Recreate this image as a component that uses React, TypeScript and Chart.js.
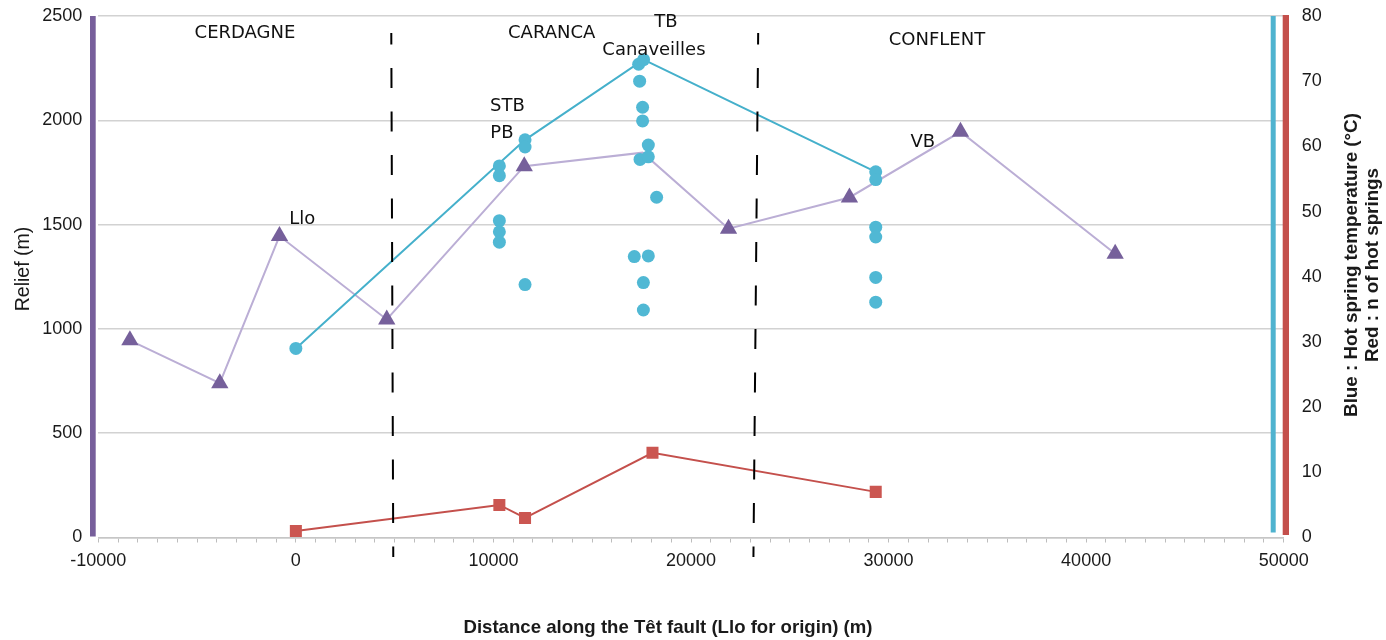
import { useEffect, useRef } from 'react';
import { Chart, registerables } from 'chart.js';

Chart.register(...registerables);

// Relief along the fault (m) — purple triangles
const reliefX = [-8400, -3850, -830, 4600, 11560, 17550, 21900, 28020, 33640, 41470];
const reliefM = [945, 740, 1445, 1045, 1780, 1845, 1480, 1630, 1945, 1360];
// index of the relief vertex whose marker is hidden under the spring dots
const reliefHiddenMarker = 5;

// Individual hot spring temperatures (°C) — blue dots
const springX = [
  0,
  10300, 10300, 10300, 10300, 10300,
  11600, 11600, 11600,
  17350, 17600, 17400, 17550, 17550, 17840, 17420, 17840, 18260, 17130, 17840, 17590, 17590,
  29350, 29350, 29350, 29350, 29350, 29350,
];
const springT = [
  29,
  57.0, 55.5, 48.6, 46.9, 45.3,
  61.0, 59.9, 38.8,
  72.6, 73.3, 70.0, 66.0, 63.9, 60.2, 58.0, 58.4, 52.2, 43.1, 43.2, 39.1, 34.9,
  56.1, 54.9, 47.6, 46.1, 39.9, 36.1,
];

// Maximum temperature per spring group (°C) — blue line
const tmaxX = [0, 11600, 17600, 29350];
const tmaxT = [29, 61, 73.3, 56.1];

// Number of hot springs — red squares
const countX = [0, 10300, 11600, 18050, 29350];
const countN = [1, 5, 3, 13, 7];

// Fault segment boundaries (dashed lines), x at top and bottom of the line
const faultTopX = [4830, 23400];
const faultBottomX = [4930, 23160];

// Annotations (x in m along fault, y in relief units, text baseline)
const labelText = ['CERDAGNE', 'CARANCA', 'CONFLENT', 'TB', 'Canaveilles', 'STB', 'PB', 'Llo', 'VB'];
const labelX = [-2576, 12948, 32450, 18733, 18125, 10710, 10432, 324, 31730];
const labelY = [2393, 2393, 2362, 2446, 2313, 2045, 1917, 1504, 1871];

// Axis ticks
const xTickMin = -10000;
const xTickMax = 50000;
const reliefMax = 2500;
const tempMax = 80;

const TICK_FONT = { family: '"Liberation Sans", Arial, sans-serif', size: 18 };

export default function App() {
  const ref = useRef<HTMLCanvasElement>(null);

  useEffect(() => {
    document.body.style.margin = '0';
    const canvas = ref.current;
    if (!canvas) return;
    const pts = (xs: number[], ys: number[]) => xs.map((x, i) => ({ x, y: ys[i] }));

    const faultPlugin = {
      id: 'faults',
      afterDatasetsDraw(chart: any) {
        const { ctx, scales } = chart;
        const xs = scales.x;
        ctx.save();
        ctx.strokeStyle = '#000';
        ctx.lineWidth = 2;
        ctx.setLineDash([20, 23.5]);
        ctx.lineDashOffset = 8.5;
        faultTopX.forEach((tx, i) => {
          ctx.beginPath();
          ctx.moveTo(xs.getPixelForValue(tx), 33);
          ctx.lineTo(xs.getPixelForValue(faultBottomX[i]), 557);
          ctx.stroke();
        });
        ctx.restore();
      },
    };

    const decorPlugin = {
      id: 'decor',
      afterDraw(chart: any) {
        const { ctx, chartArea: a, scales } = chart;
        const xs = scales.x;
        const ys = scales.y;
        ctx.save();
        // coloured axis bars
        ctx.fillStyle = '#775f9b';
        ctx.fillRect(a.left - 8.3, a.top, 5.7, a.bottom - a.top - 1);
        ctx.fillStyle = '#4fb3cf';
        ctx.fillRect(a.right - 13, a.top, 5, a.bottom - a.top - 5);
        ctx.fillStyle = '#c4504c';
        ctx.fillRect(a.right - 1, a.top - 1, 6.3, a.bottom - a.top - 1.5);

        // annotations
        ctx.font = '18px "DejaVu Sans", sans-serif';
        ctx.fillStyle = '#111';
        ctx.textAlign = 'center';
        ctx.textBaseline = 'alphabetic';
        labelText.forEach((t, i) => {
          ctx.fillText(t, xs.getPixelForValue(labelX[i]), ys.getPixelForValue(labelY[i]));
        });

        // axis titles
        ctx.fillStyle = '#1a1a1a';
        ctx.textBaseline = 'middle';
        ctx.save();
        ctx.translate(24, 269);
        ctx.rotate(-Math.PI / 2);
        ctx.font = '19.5px "Liberation Sans", Arial, sans-serif';
        ctx.fillText('Relief (m)', 0, 0);
        ctx.restore();

        ctx.save();
        ctx.font = 'bold 18.8px "Liberation Sans", Arial, sans-serif';
        ctx.translate(1352, 265);
        ctx.rotate(-Math.PI / 2);
        ctx.fillText('Blue : Hot spring temperature (°C)', 0, 0);
        ctx.fillText('Red : n of hot springs', 0, 21);
        ctx.restore();

        ctx.font = 'bold 18.6px "Liberation Sans", Arial, sans-serif';
        ctx.fillText('Distance along the Têt fault (Llo for origin) (m)', 668, 628);
        ctx.restore();
      },
    };

    const fitVertical = (w: number) => (s: any) => {
      s.width = w;
      s.paddingTop = 0;
      s.paddingBottom = 0;
    };

    const chart = new Chart(canvas, {
      type: 'scatter',
      data: {
        datasets: [
          {
            label: 'Hot spring temperature',
            data: pts(springX, springT),
            yAxisID: 'y1',
            backgroundColor: '#50b8d4',
            pointBorderWidth: 0,
            pointRadius: 6.5,
            pointStyle: 'circle',
            order: 1,
          } as any,
          {
            label: 'n of hot springs',
            data: pts(countX, countN),
            yAxisID: 'y1',
            showLine: true,
            borderColor: '#c4504c',
            borderWidth: 2,
            backgroundColor: '#cb5651',
            pointStyle: 'rect',
            pointRadius: 8.5,
            pointBorderWidth: 0,
            order: 2,
          },
          {
            label: 'Max temperature',
            data: pts(tmaxX, tmaxT),
            yAxisID: 'y1',
            showLine: true,
            borderColor: '#45b0cb',
            borderWidth: 2,
            pointRadius: 0,
            order: 3,
          },
          {
            label: 'Relief',
            data: pts(reliefX, reliefM),
            yAxisID: 'y',
            showLine: true,
            borderColor: '#bbaed5',
            borderWidth: 2,
            backgroundColor: '#76609b',
            pointStyle: 'triangle',
            pointRadius: (c: any) => (c.dataIndex === reliefHiddenMarker ? 0 : 10),
            pointBorderWidth: 0,
            order: 4,
          },
        ],
      },
      options: {
        animation: false,
        responsive: false,
        devicePixelRatio: 1,
        layout: { padding: { top: 16, left: 0, right: 0, bottom: 0 } },
        plugins: { legend: { display: false }, tooltip: { enabled: false } },
        scales: {
          x: {
            type: 'linear',
            position: 'bottom',
            min: xTickMin,
            max: xTickMax,
            afterFit: (s: any) => {
              s.height = 102.5;
              s.paddingLeft = 0;
              s.paddingRight = 0;
            },
            ticks: {
              stepSize: 1000,
              autoSkip: false,
              maxRotation: 0,
              padding: 8,
              color: '#1a1a1a',
              font: TICK_FONT,
              callback: (v: any) => (Number(v) % 10000 === 0 ? String(v) : ''),
            },
            grid: { drawOnChartArea: false, drawTicks: true, tickLength: 5, color: '#bdbdbd', lineWidth: 1 },
            border: { color: '#c6c6c6', width: 1.5 },
          },
          y: {
            type: 'linear',
            position: 'left',
            min: 0,
            max: reliefMax,
            afterFit: fitVertical(98.3),
            ticks: {
              stepSize: 500,
              padding: 16,
              color: '#1a1a1a',
              font: TICK_FONT,
              callback: (v: any) => String(v),
            },
            grid: { color: '#d2d2d2', lineWidth: 1.5, drawTicks: false },
            border: { display: false },
          },
          y1: {
            type: 'linear',
            position: 'right',
            min: 0,
            max: tempMax,
            afterFit: fitVertical(102.3),
            ticks: {
              stepSize: 10,
              padding: 18,
              color: '#1a1a1a',
              font: TICK_FONT,
              callback: (v: any) => String(v),
            },
            grid: { display: false, drawTicks: false },
            border: { display: false },
          },
        },
      },
      plugins: [faultPlugin, decorPlugin],
    });

    return () => chart.destroy();
  }, []);

  return (
    <div style={{ width: 1386, height: 640 }}>
      <canvas ref={ref} width={1386} height={640} style={{ display: 'block' }} />
    </div>
  );
}
